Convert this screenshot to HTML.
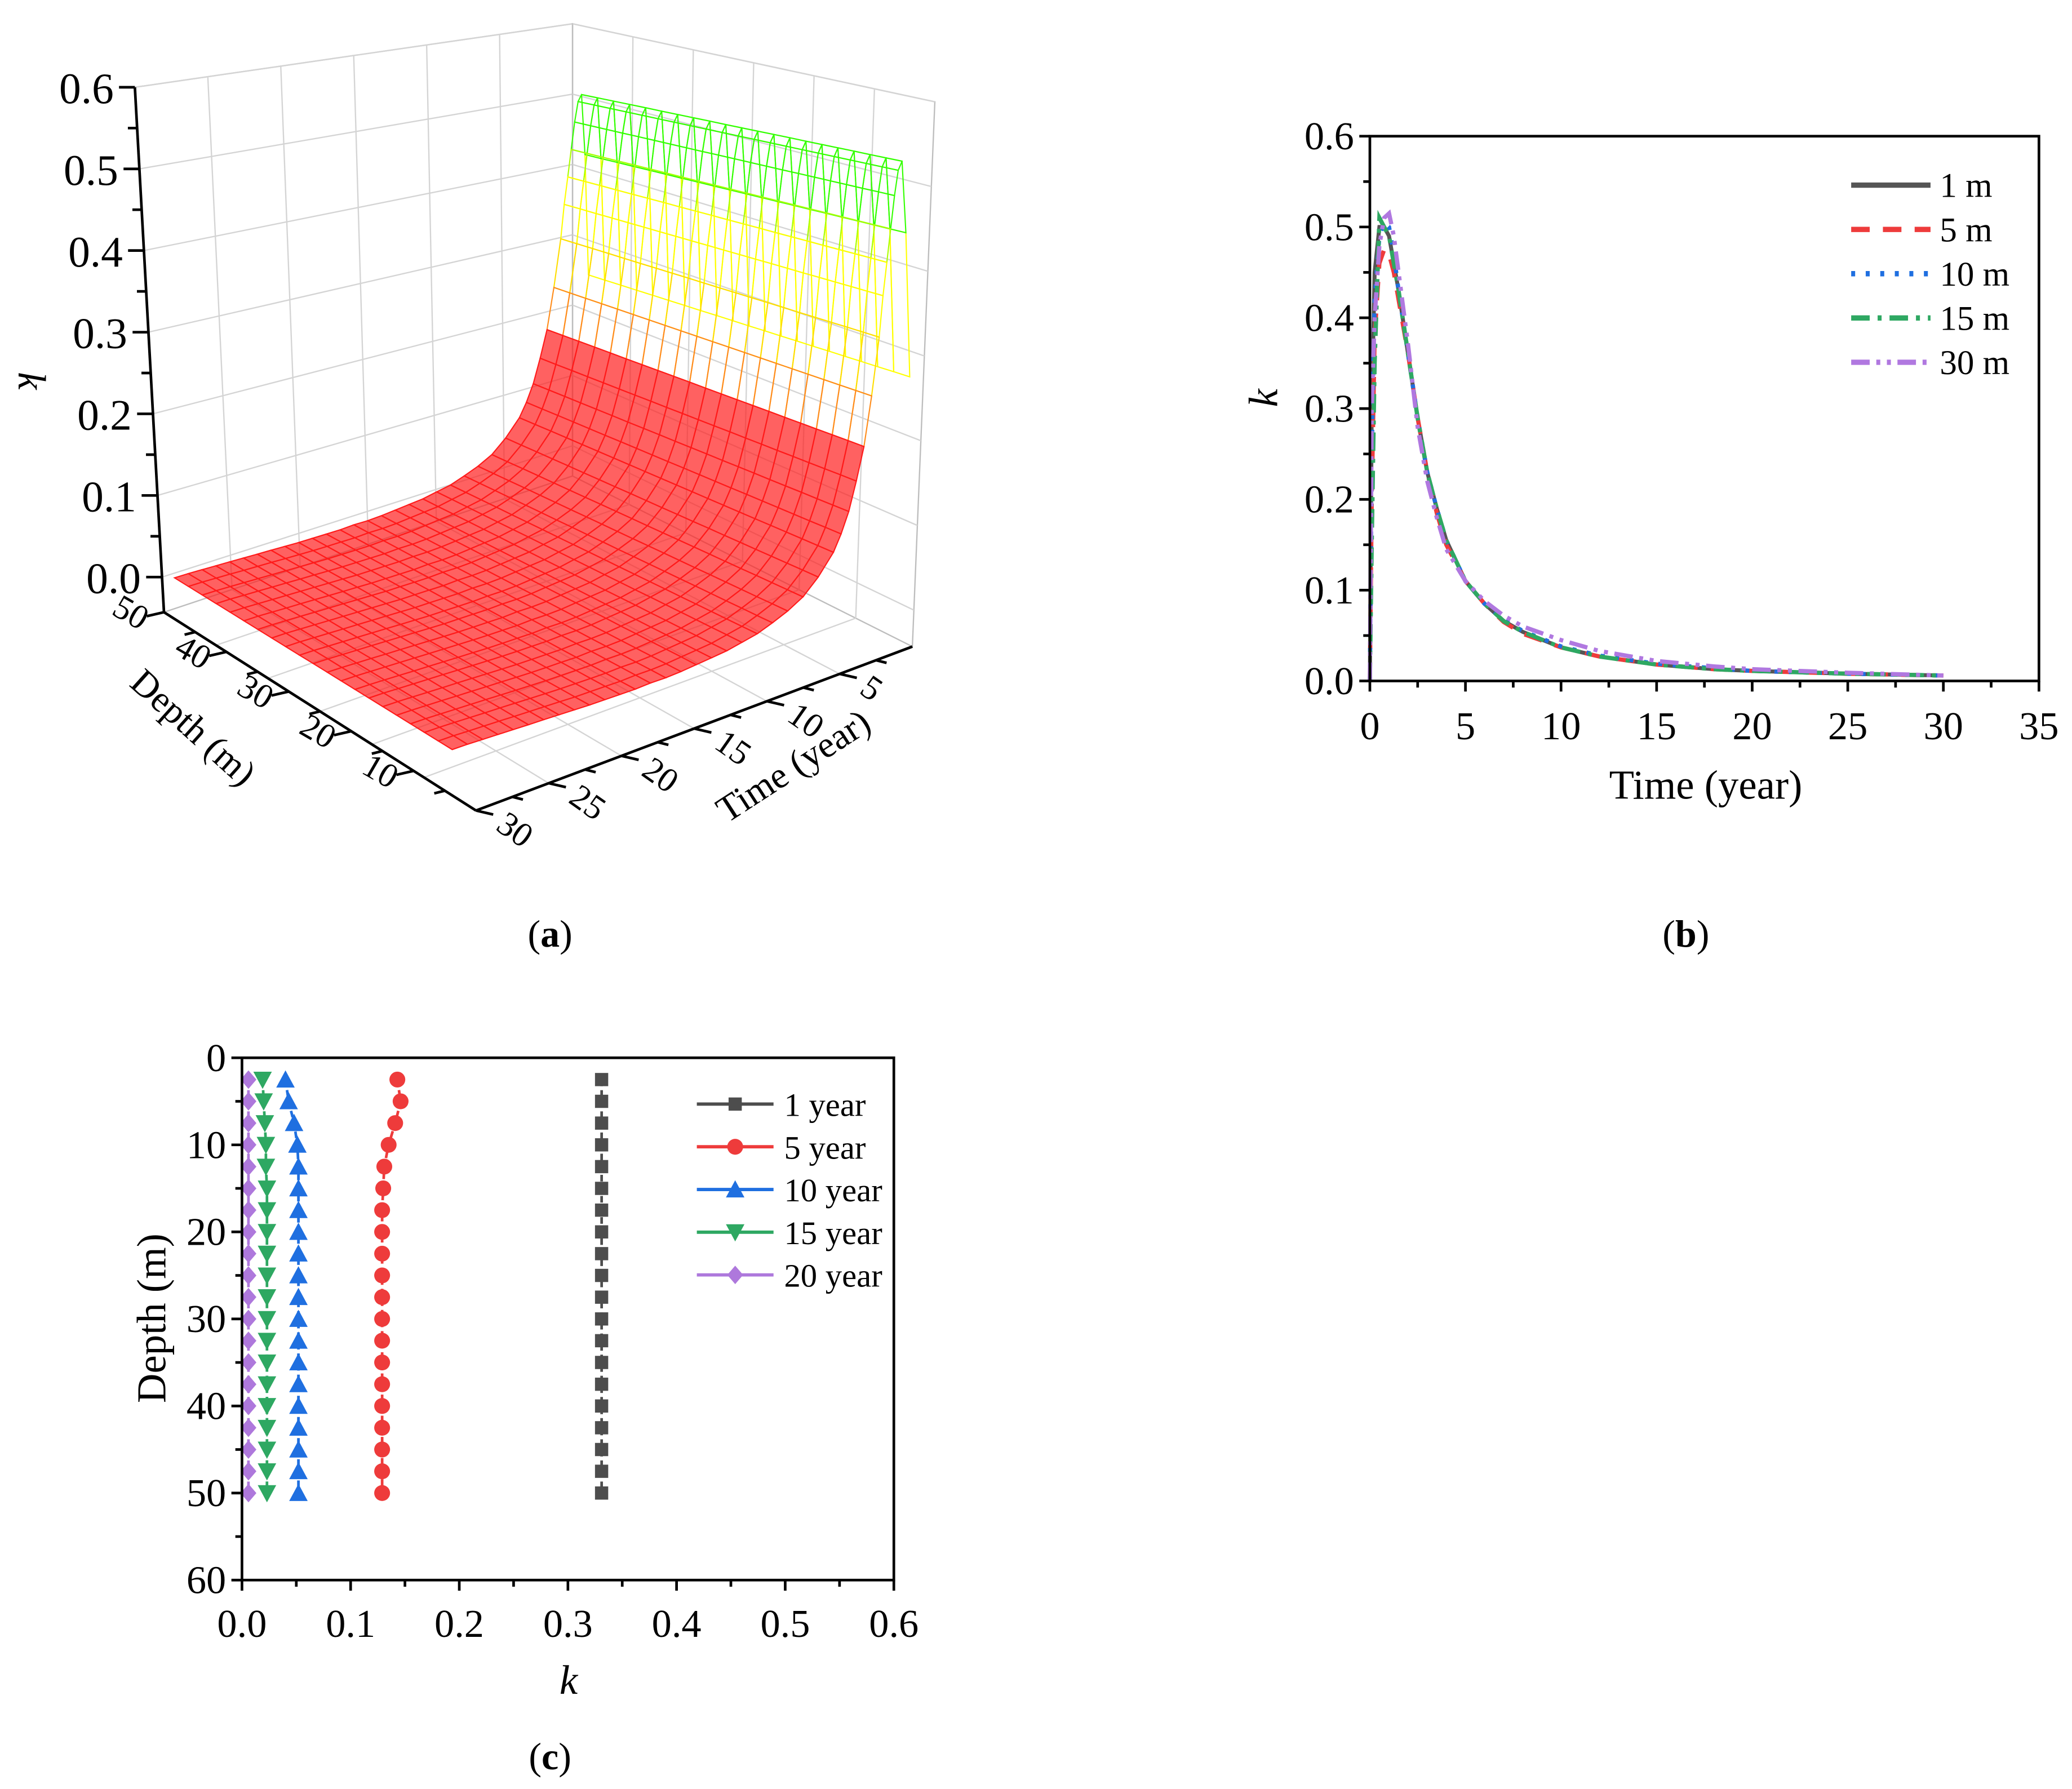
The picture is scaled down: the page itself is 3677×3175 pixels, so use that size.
<!DOCTYPE html>
<html><head><meta charset="utf-8"><style>
html,body{margin:0;padding:0;background:#fff;}
svg{display:block;font-family:"Liberation Serif",serif;}
</style></head><body>
<svg id="fig" xmlns="http://www.w3.org/2000/svg" width="3677" height="3175" viewBox="0 0 1567 1353" preserveAspectRatio="none">
<rect width="1567" height="1353" fill="#fff"/>
<g id="pa"></g>
<g id="pb"></g>
<g id="pc"></g>
<text x="416" y="716" font-size="29" text-anchor="middle">(<tspan font-weight="bold">a</tspan>)</text>
<text x="1275" y="716" font-size="29" text-anchor="middle">(<tspan font-weight="bold">b</tspan>)</text>
<text x="416" y="1338" font-size="29" text-anchor="middle">(<tspan font-weight="bold">c</tspan>)</text>
</svg>
<script>
// ---------- data: panel b ----------
const timesB = [0,0.1,0.25,0.5,0.75,1,1.25,1.5,2,2.5,3,3.5,4,5,6,7,8,10,12,15,18,20,25,30];
const k1m  = [0,0.3,0.45,0.5,0.5,0.49,0.46,0.43,0.36,0.29,0.23,0.19,0.155,0.11,0.085,0.066,0.054,0.037,0.027,0.018,0.013,0.011,0.008,0.006];
const k5m  = [0,0.2,0.38,0.46,0.475,0.47,0.45,0.42,0.36,0.29,0.23,0.185,0.15,0.11,0.085,0.065,0.052,0.037,0.027,0.018,0.013,0.011,0.008,0.006];
const k10m = [0,0.25,0.42,0.49,0.505,0.5,0.47,0.43,0.36,0.29,0.23,0.19,0.155,0.11,0.085,0.067,0.055,0.038,0.028,0.019,0.014,0.011,0.008,0.006];
const k15m = [0,0.15,0.35,0.51,0.5,0.49,0.46,0.43,0.36,0.29,0.23,0.19,0.155,0.11,0.085,0.066,0.054,0.037,0.027,0.018,0.013,0.011,0.008,0.006];
const k30m = [0,0.3,0.4,0.48,0.51,0.515,0.49,0.45,0.37,0.28,0.22,0.18,0.145,0.11,0.088,0.072,0.06,0.045,0.033,0.022,0.016,0.013,0.009,0.006];
const seriesBNames = ["1 m","5 m","10 m","15 m","30 m"];
const xTicksB = [0,5,10,15,20,25,30,35];
const yTicksB = [0.0,0.1,0.2,0.3,0.4,0.5,0.6];
// ---------- data: panel c ----------
const depthsC = [2.5,5,7.5,10,12.5,15,17.5,20,22.5,25,27.5,30,32.5,35,37.5,40,42.5,45,47.5,50];
const k1y  = [0.331,0.331,0.331,0.331,0.331,0.331,0.331,0.331,0.331,0.331,0.331,0.331,0.331,0.331,0.331,0.331,0.331,0.331,0.331,0.331];
const k5y  = [0.143,0.146,0.141,0.135,0.131,0.13,0.129,0.129,0.129,0.129,0.129,0.129,0.129,0.129,0.129,0.129,0.129,0.129,0.129,0.129];
const k10y = [0.04,0.043,0.048,0.051,0.052,0.052,0.052,0.052,0.052,0.052,0.052,0.052,0.052,0.052,0.052,0.052,0.052,0.052,0.052,0.052];
const k15y = [0.019,0.02,0.021,0.022,0.022,0.023,0.023,0.023,0.023,0.023,0.023,0.023,0.023,0.023,0.023,0.023,0.023,0.023,0.023,0.023];
const k20y = [0.006,0.006,0.006,0.006,0.006,0.006,0.006,0.006,0.006,0.006,0.006,0.006,0.006,0.006,0.006,0.006,0.006,0.006,0.006,0.006];
const seriesCNames = ["1 year","5 year","10 year","15 year","20 year"];
const xTicksC = [0.0,0.1,0.2,0.3,0.4,0.5,0.6];
const yTicksC = [0,10,20,30,40,50,60];
// ---------- data: panel a ----------
const timesA = [0,0.25,0.5,0.75,1,1.25,1.5,1.75,2,2.5,3,3.5,4,4.5,5,6,7,8,9,10,11,12,13,14,15,16,17,18,19,20,21,22,23,24,25,26,27,28,29,30];
const kA = [0.3,0.48,0.57,0.56,0.53,0.49,0.45,0.41,0.36,0.29,0.23,0.19,0.155,0.13,0.11,0.085,0.066,0.054,0.045,0.037,0.032,0.027,0.024,0.021,0.018,0.016,0.015,0.013,0.012,0.011,0.010,0.0095,0.009,0.0085,0.008,0.0075,0.007,0.0065,0.006,0.005];
const depthsA = [0,2.5,5,7.5,10,12.5,15,17.5,20,22.5,25,27.5,30,32.5,35,37.5,40,42.5,45,47.5,50];
const zTicksA = [0.0,0.1,0.2,0.3,0.4,0.5,0.6];
const depthTicksA = [10,20,30,40,50];
const timeTicksA = [5,10,15,20,25,30];

const NS="http://www.w3.org/2000/svg";
function mk(parent,tag,attrs,text){const e=document.createElementNS(NS,tag);for(const k in attrs)e.setAttribute(k,attrs[k]);if(text!==undefined)e.textContent=text;parent.appendChild(e);return e;}
const pts=a=>a.map(p=>p[0].toFixed(1)+","+p[1].toFixed(1)).join(" ");

// ================= PANEL B =================
(function(){
  const g=document.getElementById('pb');
  const X0=1036,X1=1542,Y0=515,Y1=103;
  const xs=v=>X0+(v-0)/(35-0)*(X1-X0);
  const ys=v=>Y0-(v-0)/(0.6-0)*(Y0-Y1);
  const styles=[
    {c:"#555555",d:"",w:3},
    {c:"#ee3b3b",d:"14,10",w:3.2},
    {c:"#1f6fe0",d:"3,8",w:3.2},
    {c:"#2ea862",d:"14,6,3,6",w:3.2},
    {c:"#b078e0",d:"14,5,3,5,3,5",w:3.2}];
  const data=[k1m,k5m,k10m,k15m,k30m];
  data.forEach((s,i)=>{
    const p=mk(g,'polyline',{points:pts(timesB.map((t,j)=>[xs(t),ys(s[j])])),fill:"none",stroke:styles[i].c,"stroke-width":styles[i].w,"stroke-dasharray":styles[i].d});
    
    
  });
  const fr=mk(g,'rect',{x:X0,y:Y1,width:X1-X0,height:Y0-Y1,fill:"none",stroke:"#000","stroke-width":2});
  
  xTicksB.forEach(v=>{
    mk(g,'line',{x1:xs(v),y1:Y0,x2:xs(v),y2:Y0+8,stroke:"#000","stroke-width":2});
    if(v<35)mk(g,'line',{x1:xs(v+2.5),y1:Y0,x2:xs(v+2.5),y2:Y0+5,stroke:"#000","stroke-width":2});
    const t=mk(g,'text',{x:xs(v),y:Y0+44,"font-size":30,"text-anchor":"middle"},String(v));
    
  });
  yTicksB.forEach(v=>{
    mk(g,'line',{x1:X0-8,y1:ys(v),x2:X0,y2:ys(v),stroke:"#000","stroke-width":2});
    if(v<0.6)mk(g,'line',{x1:X0-5,y1:ys(v+0.05),x2:X0,y2:ys(v+0.05),stroke:"#000","stroke-width":2});
    const t=mk(g,'text',{x:X0-12,y:ys(v)+10,"font-size":30,"text-anchor":"end"},v.toFixed(1));
    
  });
  const xt=mk(g,'text',{x:1290,y:604,"font-size":31,"text-anchor":"middle"},"Time (year)");
  
  const yt=mk(g,'text',{x:0,y:0,"font-size":31,"font-style":"italic","text-anchor":"middle",transform:"translate(966,301) rotate(-90)"},"k");
  
  seriesBNames.forEach((n,i)=>{
    const y=140+i*33.5;
    const lg=mk(g,'g',{});
    
    mk(lg,'line',{x1:1400,y1:y,x2:1460,y2:y,stroke:styles[i].c,"stroke-width":4,"stroke-dasharray":styles[i].d});
    mk(lg,'text',{x:1467,y:y+9,"font-size":26},n);
  });
})();

// ================= PANEL C =================
(function(){
  const g=document.getElementById('pc');
  const X0=183,X1=676,Y0=800,Y1=1195;
  const xs=v=>X0+v/0.6*(X1-X0);
  const ys=v=>Y0+v/60*(Y1-Y0);
  const cols=["#4d4d4d","#ee3b3b","#1f6fe0","#2ea862","#ae78dc"];
  const data=[k1y,k5y,k10y,k15y,k20y];
  function marker(par,i,x,y){
    const c=cols[i];let m;
    if(i===0)m=mk(par,'rect',{x:x-5,y:y-5,width:10,height:10,fill:c});
    else if(i===1)m=mk(par,'circle',{cx:x,cy:y,r:6,fill:c});
    else if(i===2)m=mk(par,'polygon',{points:pts([[x,y-7],[x+7,y+6],[x-7,y+6]]),fill:c});
    else if(i===3)m=mk(par,'polygon',{points:pts([[x,y+7],[x+7,y-6],[x-7,y-6]]),fill:c});
    else m=mk(par,'polygon',{points:pts([[x,y-7],[x+6,y],[x,y+7],[x-6,y]]),fill:c});
    return m;
  }
  data.forEach((s,i)=>{
    const sg=mk(g,'g',{});
    
    
    mk(sg,'polyline',{points:pts(depthsC.map((d,j)=>[xs(s[j]),ys(d)])),fill:"none",stroke:cols[i],"stroke-width":2,"stroke-dasharray":"5,3"});
    depthsC.forEach((d,j)=>{
      const m=marker(sg,i,xs(s[j]),ys(d));
      
      
    });
  });
  const fr=mk(g,'rect',{x:X0,y:Y0,width:X1-X0,height:Y1-Y0,fill:"none",stroke:"#000","stroke-width":2});
  
  xTicksC.forEach(v=>{
    mk(g,'line',{x1:xs(v),y1:Y1,x2:xs(v),y2:Y1+8,stroke:"#000","stroke-width":2});
    if(v<0.6)mk(g,'line',{x1:xs(v+0.05),y1:Y1,x2:xs(v+0.05),y2:Y1+5,stroke:"#000","stroke-width":2});
    const t=mk(g,'text',{x:xs(v),y:Y1+43,"font-size":30,"text-anchor":"middle"},v.toFixed(1));
    
  });
  yTicksC.forEach(v=>{
    mk(g,'line',{x1:X0-8,y1:ys(v),x2:X0,y2:ys(v),stroke:"#000","stroke-width":2});
    if(v<60)mk(g,'line',{x1:X0-5,y1:ys(v+5),x2:X0,y2:ys(v+5),stroke:"#000","stroke-width":2});
    const t=mk(g,'text',{x:X0-12,y:ys(v)+10,"font-size":30,"text-anchor":"end"},String(v));
    
  });
  const xt=mk(g,'text',{x:430,y:1281,"font-size":31,"font-style":"italic","text-anchor":"middle"},"k");
  
  const yt=mk(g,'text',{x:0,y:0,"font-size":31,"text-anchor":"middle",transform:"translate(125,997) rotate(-90)"},"Depth (m)");
  
  seriesCNames.forEach((n,i)=>{
    const y=835+i*32.3;
    const lg=mk(g,'g',{});
    
    mk(lg,'line',{x1:527,y1:y,x2:585,y2:y,stroke:cols[i],"stroke-width":2.5});
    marker(lg,i,556,y);
    mk(lg,'text',{x:593,y:y+9,"font-size":25},n);
  });
})();

// ================= PANEL A =================
(function(){
  const g=document.getElementById('pa');
  const lerp=(a,b,f)=>[a[0]+(b[0]-a[0])*f,a[1]+(b[1]-a[1])*f];
  function quadPt(BL,TL,TR,BR,fx,fy){const b=lerp(BL,BR,fx),t=lerp(TL,TR,fx);return lerp(b,t,fy);}
  const gridC="#d4d4d4";
  const LW=[[124,463],[102,66],[433,18],[433,360]];
  const RW=[[433,360],[433,18],[707,77],[690,489]];
  const FL=[[124,463],[433,360],[690,489],[360,613]];
  const wallG=mk(g,'g',{});
  
  const kToF=k=>(k+0.043)/0.643;
  [LW,RW].forEach(W=>{
    mk(wallG,'polygon',{points:pts(W),fill:"none",stroke:"#bdbdbd","stroke-width":1});
    zTicksA.forEach(k=>{const f=kToF(k);const a=quadPt(W[0],W[1],W[2],W[3],0,f),b=quadPt(W[0],W[1],W[2],W[3],1,f);mk(wallG,'line',{x1:a[0],y1:a[1],x2:b[0],y2:b[1],stroke:gridC,"stroke-width":1});});
    for(let i=1;i<6;i++){const f=i/6;const a=quadPt(W[0],W[1],W[2],W[3],f,0),b=quadPt(W[0],W[1],W[2],W[3],f,1);mk(wallG,'line',{x1:a[0],y1:a[1],x2:b[0],y2:b[1],stroke:gridC,"stroke-width":1});}
  });
  for(let i=1;i<6;i++){const f=i/6;
    let a=lerp(FL[0],FL[1],f),b=lerp(FL[3],FL[2],f);mk(wallG,'line',{x1:a[0],y1:a[1],x2:b[0],y2:b[1],stroke:gridC,"stroke-width":1});
    a=lerp(FL[0],FL[3],f);b=lerp(FL[1],FL[2],f);mk(wallG,'line',{x1:a[0],y1:a[1],x2:b[0],y2:b[1],stroke:gridC,"stroke-width":1});}
  const A=[132,440,600],B=[342,570,620],C=[688,468,610],D=[445,360,507];
  function proj(t,d,k){const u=t/30,v=d/50;const r=[0,1,2].map(i=>(1-u)*(1-v)*C[i]+u*(1-v)*B[i]+u*v*A[i]+(1-u)*v*D[i]);return [r[0],r[1]-k*r[2]];}
  function col(k){if(k<0.22)return "#ff1a1a";if(k<0.31)return "#ff8c1a";if(k<0.36)return "#ffdd00";if(k<0.44)return "#ffff00";if(k<0.5)return "#aaff00";return "#33ff00";}
  const surf=mk(g,'g',{});
  
  for(let i=0;i<timesA.length-1;i++){
    for(let j=0;j<depthsA.length-1;j++){
      const k0=kA[i],k1=kA[i+1];
      const q=[proj(timesA[i],depthsA[j],k0),proj(timesA[i+1],depthsA[j],k1),proj(timesA[i+1],depthsA[j+1],k1),proj(timesA[i],depthsA[j+1],k0)];
      const km=(k0+k1)/2;
      const c=col(km);
      mk(surf,'polygon',{points:pts(q),fill:km<0.22?"rgba(255,30,30,0.7)":"none",stroke:c,"stroke-width":0.9});
    }
  }
  const ax=mk(g,'g',{});
  
  mk(ax,'line',{x1:102,y1:66,x2:124,y2:463,stroke:"#000","stroke-width":2});
  mk(ax,'line',{x1:124,y1:463,x2:360,y2:613,stroke:"#000","stroke-width":2});
  mk(ax,'line',{x1:360,y1:613,x2:690,y2:489,stroke:"#000","stroke-width":2});
  const zY=k=>[102+(124-102)*(1-kToF(k)),66+(463-66)*(1-kToF(k))];
  zTicksA.forEach(k=>{
    const p=zY(k);
    mk(ax,'line',{x1:p[0]-12,y1:p[1],x2:p[0],y2:p[1],stroke:"#000","stroke-width":2});
    if(k<0.6){const q=zY(k+0.05);mk(ax,'line',{x1:q[0]-7,y1:q[1],x2:q[0],y2:q[1],stroke:"#000","stroke-width":2});}
    const t=mk(ax,'text',{x:p[0]-16,y:p[1]+12,"font-size":33,"text-anchor":"end"},k.toFixed(1));
    
  });
  const dP=d=>lerp([360,613],[124,463],d/50);
  depthTicksA.forEach(d=>{
    const p=dP(d);
    mk(ax,'line',{x1:p[0],y1:p[1],x2:p[0]-13,y2:p[1]+3,stroke:"#000","stroke-width":2});
    const q=dP(d-5);mk(ax,'line',{x1:q[0],y1:q[1],x2:q[0]-8,y2:q[1]+2,stroke:"#000","stroke-width":2});
    const t=mk(ax,'text',{x:0,y:0,"font-size":26,"text-anchor":"end",transform:`translate(${p[0]-18},${p[1]+14}) rotate(30)`},String(d));
    
  });
  const tP=t=>lerp([690,489],[360,613],t/30);
  timeTicksA.forEach(tv=>{
    const p=tP(tv);
    mk(ax,'line',{x1:p[0],y1:p[1],x2:p[0]+13,y2:p[1]+3,stroke:"#000","stroke-width":2});
    const q=tP(tv-2.5);mk(ax,'line',{x1:q[0],y1:q[1],x2:q[0]+8,y2:q[1]+2,stroke:"#000","stroke-width":2});
    const t=mk(ax,'text',{x:0,y:0,"font-size":26,"text-anchor":"start",transform:`translate(${p[0]+14},${p[1]+14}) rotate(35)`},String(tv));
    
  });
  const zt=mk(ax,'text',{x:0,y:0,"font-size":30,"font-style":"italic","text-anchor":"middle",transform:"translate(14,288) rotate(90)"},"k");
  
  const dt=mk(ax,'text',{x:0,y:0,"font-size":28,"text-anchor":"middle",transform:"translate(140,557) rotate(42)"},"Depth (m)");
  
  const tt=mk(ax,'text',{x:0,y:0,"font-size":28,"text-anchor":"middle",transform:"translate(605,587) rotate(-33)"},"Time (year)");
  
})();
</script>
</body></html>
